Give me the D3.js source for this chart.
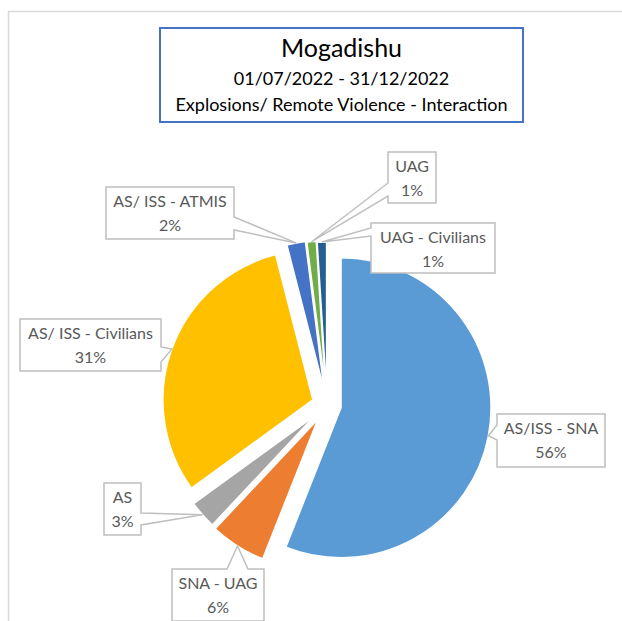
<!DOCTYPE html>
<html>
<head>
<meta charset="utf-8">
<script src="https://cdn.jsdelivr.net/npm/d3@7"></script>
<style>
  html, body { margin: 0; padding: 0; background: #fff; }
  svg { display: block; font-family: Lato, "Open Sans", sans-serif; }
</style>
</head>
<body>
<div id="pie-chart"></div>
<script>
// Data
const categories = ["AS/ISS - SNA", "SNA - UAG", "AS", "AS/ ISS - Civilians", "AS/ ISS - ATMIS", "UAG", "UAG - Civilians"];
const percentages = [56, 6, 3, 31, 2, 1, 1];
const titleLines = ["Mogadishu", "01/07/2022 - 31/12/2022", "Explosions/ Remote Violence - Interaction"];

// Excel office palette
const sliceColors = ["#5B9BD5", "#ED7D31", "#A5A5A5", "#FFC000", "#4472C4", "#70AD47", "#255E91"];

const width = 622;
const height = 621;
const center = { x: 327, y: 405 };
const radius = 150;
// explosion distance of each slice (px)
const explode = [14.3, 17, 16, 15, 15, 14, 13];

// label boxes: box, which side the pointer leaves from, and the base of the pointer on that side
const labelBoxes = [
  { x: 497, y: 414, w: 108, h: 53, side: "left", b: [425, 440] },
  { x: 172, y: 569, w: 92, h: 52, side: "top", b: [227, 248] },
  { x: 104, y: 483, w: 37, h: 52, side: "right", b: [513, 525] },
  { x: 20, y: 319, w: 141, h: 52, side: "right", b: [347, 362] },
  { x: 106, y: 187, w: 128, h: 52, side: "right", b: [217, 230] },
  { x: 388, y: 152, w: 48, h: 51, side: "left", b: [183, 196] },
  { x: 371, y: 223, w: 124, h: 50, side: "left", b: [228, 236] }
];

const data = categories.map((c, i) => ({ name: c, value: percentages[i] }));

const svg = d3.select("#pie-chart")
  .append("svg")
    .attr("width", width)
    .attr("height", height)
    .attr("viewBox", [0, 0, width, height]);

// chart area border (only top and left show in the crop)
svg.append("path")
  .attr("d", `M8.5,${height} V11.5 H${width}`)
  .attr("fill", "none")
  .attr("stroke", "#D9D9D9")
  .attr("stroke-width", 1.5);

// Title box
svg.append("rect")
  .attr("x", 160)
  .attr("y", 28)
  .attr("width", 363)
  .attr("height", 94)
  .attr("fill", "white")
  .attr("stroke", "#4472C4")
  .attr("stroke-width", 2);

svg.append("g")
  .selectAll("text")
  .data(titleLines)
  .join("text")
    .attr("x", 341.5)
    .attr("y", (d, i) => [57, 85, 111][i])
    .attr("text-anchor", "middle")
    .style("font-size", (d, i) => i === 0 ? "25px" : "18px")
    .attr("fill", "#000")
    .text(d => d);

// Pie
const pie = d3.pie()
  .sort(null)
  .value(d => d.value);
const arcs = pie(data);

const arcGen = d3.arc()
  .innerRadius(0)
  .outerRadius(radius);

const mid = d => (d.startAngle + d.endAngle) / 2;
const offset = (d, dist) => [Math.sin(mid(d)) * dist, -Math.cos(mid(d)) * dist];

const chart = svg.append("g")
  .attr("transform", `translate(${center.x}, ${center.y})`);

chart.selectAll("path.slice")
  .data(arcs)
  .join("path")
    .attr("class", "slice")
    .attr("d", arcGen)
    .attr("transform", (d, i) => {
      const [dx, dy] = offset(d, explode[i]);
      return `translate(${dx}, ${dy})`;
    })
    .attr("fill", (d, i) => sliceColors[i])
    .attr("stroke", "white")
    .attr("stroke-width", 1.5);

// Callouts: pointer tip sits on the middle of the slice's outer arc
const tipOf = (d, i) => {
  const [ex, ey] = offset(d, explode[i]);
  const [ox, oy] = offset(d, radius);
  return [center.x + ex + ox, center.y + ey + oy];
};

const calloutPath = (box, tip) => {
  const x0 = box.x, y0 = box.y, x1 = box.x + box.w, y1 = box.y + box.h;
  const [b1, b2] = box.b;
  const t = tip.join(",");
  switch (box.side) {
    case "left":
      return `M${x0},${y0}H${x1}V${y1}H${x0}V${b2}L${t}L${x0},${b1}Z`;
    case "right":
      return `M${x0},${y0}H${x1}V${b1}L${t}L${x1},${b2}V${y1}H${x0}Z`;
    case "top":
      return `M${x0},${y0}H${b1}L${t}L${b2},${y0}H${x1}V${y1}H${x0}Z`;
  }
};

const labels = svg.append("g")
  .selectAll("g.callout")
  .data(arcs)
  .join("g")
    .attr("class", "callout");

labels.append("path")
  .attr("d", (d, i) => calloutPath(labelBoxes[i], tipOf(d, i)))
  .attr("fill", "white")
  .attr("stroke", "#BFBFBF")
  .attr("stroke-width", 1.5);

labels.append("text")
  .attr("x", (d, i) => labelBoxes[i].x + labelBoxes[i].w / 2)
  .attr("y", (d, i) => labelBoxes[i].y + 20)
  .attr("text-anchor", "middle")
  .attr("fill", "#595959")
  .style("font-size", "16px")
  .text(d => d.data.name);

labels.append("text")
  .attr("x", (d, i) => labelBoxes[i].x + labelBoxes[i].w / 2)
  .attr("y", (d, i) => labelBoxes[i].y + 44)
  .attr("text-anchor", "middle")
  .attr("fill", "#595959")
  .style("font-size", "16px")
  .text(d => d3.format(".0f")(d.data.value) + "%");
</script>
</body>
</html>
